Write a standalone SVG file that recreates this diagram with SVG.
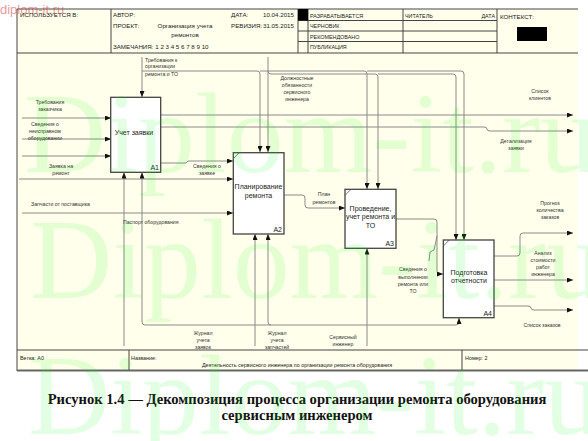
<svg xmlns="http://www.w3.org/2000/svg" width="588" height="441" viewBox="0 0 588 441">
<style>
.hd{font-family:"Liberation Sans",Arial,sans-serif;font-size:6.2px;fill:#222}
.hs{font-family:"Liberation Sans",Arial,sans-serif;font-size:5.4px;fill:#222}
.bt{font-family:"Liberation Sans",Arial,sans-serif;font-size:7px;fill:#222;text-anchor:middle}
.bn{font-family:"Liberation Sans",Arial,sans-serif;font-size:7px;fill:#222;text-anchor:end}
.lb{font-family:"Liberation Sans",Arial,sans-serif;font-size:5.2px;fill:#333;text-anchor:middle}
.ll{font-family:"Liberation Sans",Arial,sans-serif;font-size:5.2px;fill:#333}
.ln{fill:none;stroke:#8a8a8a;stroke-width:1}
.box{fill:#fff;stroke:#444;stroke-width:1.3}
.fr{stroke:#444;stroke-width:1;fill:none}
.cap{font-family:"Liberation Serif","Times New Roman",serif;font-weight:bold;font-size:14.6px;fill:#111;text-anchor:middle}
.wm{font-family:"Liberation Serif","Times New Roman",serif;font-size:114px;fill:#00ff00;fill-opacity:0.11}
</style>
<defs>
<marker id="ah" markerUnits="userSpaceOnUse" markerWidth="6" markerHeight="5" refX="6" refY="2.5" orient="auto">
<path d="M0,0 L6,2.5 L0,5 Z" fill="#111"/>
</marker>
</defs>
<rect x="0" y="0" width="588" height="441" fill="#fff"/>
<rect x="17" y="9" width="561" height="362" fill="#ffffec"/>

<g id="header">
<line class="fr" x1="17" y1="9" x2="578" y2="9"/>
<line class="fr" x1="17" y1="53" x2="578" y2="53"/>
<line class="fr" x1="17" y1="9" x2="17" y2="371"/>
<line class="fr" x1="111" y1="9" x2="111" y2="53"/>
<line class="fr" x1="298" y1="9" x2="298" y2="53"/>
<line class="fr" x1="308" y1="9" x2="308" y2="53"/>
<line class="fr" x1="403" y1="9" x2="403" y2="53"/>
<line class="fr" x1="497" y1="9" x2="497" y2="53"/>
<line class="fr" x1="298" y1="20.5" x2="497" y2="20.5"/>
<line class="fr" x1="298" y1="31" x2="497" y2="31"/>
<line class="fr" x1="298" y1="41.5" x2="497" y2="41.5"/>
<text class="hd" x="20" y="17">ИСПОЛЬЗУЕТСЯ В:</text>
<text class="hd" x="113" y="17">АВТОР:</text>
<text class="hd" x="113" y="28">ПРОЕКТ:</text>
<text class="hd" x="185" y="28" text-anchor="middle" font-size="7.4">Организация учета</text>
<text class="hd" x="185" y="36.5" text-anchor="middle" font-size="7.4">ремонтов</text>
<text class="hd" x="113" y="49">ЗАМЕЧАНИЯ:  1 2 3 4 5 6 7 8 9 10</text>
<text class="hd" x="231" y="17">ДАТА:</text>
<text class="hd" x="263" y="17">10.04.2015</text>
<text class="hd" x="231" y="28">РЕВИЗИЯ:</text>
<text class="hd" x="263" y="28">31.05.2015</text>
<rect x="298" y="9" width="10" height="11.5" fill="#000"/>
<text class="hs" x="310" y="17.5">РАЗРАБАТЫВАЕТСЯ</text>
<text class="hs" x="310" y="28">ЧЕРНОВИК</text>
<text class="hs" x="310" y="38.5">РЕКОМЕНДОВАНО</text>
<text class="hs" x="310" y="49">ПУБЛИКАЦИЯ</text>
<text class="hs" x="405" y="17.5">ЧИТАТЕЛЬ</text>
<text class="hs" x="495" y="17.5" text-anchor="end">ДАТА</text>
<text class="hd" x="500" y="18.5" font-size="6.8">КОНТЕКСТ:</text>
<rect x="517" y="27" width="30" height="14" fill="#000"/>
</g>

<g id="connectors">
<path class="ln" d="M142,57 V97" marker-end="url(#ah)"/>
<path class="ln" d="M142,71 H257 Q260,71 260,74 V152" marker-end="url(#ah)"/>
<path class="ln" d="M260,71 H364 Q367,71 367,74 V189" marker-end="url(#ah)"/>
<path class="ln" d="M367,71 H461 Q464,71 464,74 V240" marker-end="url(#ah)"/>
<path class="ln" d="M268,57 V152" marker-end="url(#ah)"/>
<path class="ln" d="M268,71 Q268,74 271,74 H375 Q378,74 378,77 V189" marker-end="url(#ah)"/>
<path class="ln" d="M378,74 H453 Q456,74 456,77 V240" marker-end="url(#ah)"/>
<path class="ln" d="M22,118 H111" marker-end="url(#ah)"/>
<path class="ln" d="M22,139 H111" marker-end="url(#ah)"/>
<path class="ln" d="M22,156 H111" marker-end="url(#ah)"/>
<path class="ln" d="M161,115 H573" marker-end="url(#ah)"/>
<path class="ln" d="M161,127 H484 Q487,127 487,129 Q487,131 490,131 H573" marker-end="url(#ah)"/>
<path class="ln" d="M161,163 H186 L188,161 H233" marker-end="url(#ah)"/>
<path class="ln" d="M19,179 H233" marker-end="url(#ah)"/>
<path class="ln" d="M22,213 H233" marker-end="url(#ah)"/>
<path class="ln" d="M284,195 H302 Q305,195 305,198 V205 Q305,208 308,208 H345" marker-end="url(#ah)"/>
<path class="ln" d="M396,219 H434 Q437,219 437,222 V271 Q437,274 440,274 H443" marker-end="url(#ah)"/>
<path class="ln" d="M429,261 L430,252 L434,250 L437,236"/>
<path class="ln" d="M494,256 H517 Q520,256 520,253 V236 Q520,233 523,233 H573" marker-end="url(#ah)"/>
<path class="ln" d="M494,280 H573" marker-end="url(#ah)"/>
<path class="ln" d="M494,306 H528 Q531,306 531,308 Q531,310 534,310 H573" marker-end="url(#ah)"/>
<path class="ln" d="M124,346 V172.5" marker-end="url(#ah)"/>
<path class="ln" d="M255,346 V234" marker-end="url(#ah)"/>
<path class="ln" d="M367,346 V248.5" marker-end="url(#ah)"/>
<path class="ln" d="M367,325 H271 Q268,325 268,322 V234" marker-end="url(#ah)"/>
<path class="ln" d="M271,325 H145 Q142,325 142,322 V172.5" marker-end="url(#ah)"/>
<path class="ln" d="M367,325 H456 Q459,325 459,322 V318" marker-end="url(#ah)"/>
</g>

<g id="A1">
<rect class="box" x="110.7" y="97.3" width="50" height="75"/>
<text class="bt" x="134" y="134.5">Учет заявки</text>
<text class="bn" x="159" y="170">A1</text>
</g>
<g id="A2">
<rect class="box" x="233.3" y="152.7" width="50.7" height="81.3"/>
<line x1="233.3" y1="158.7" x2="239.3" y2="152.7" stroke="#555" stroke-width="0.8"/>
<text class="bt" x="258.5" y="189">Планирование</text>
<text class="bt" x="258.5" y="197.5">ремонта</text>
<text class="bn" x="282" y="231.5">A2</text>
</g>
<g id="A3">
<rect class="box" x="345" y="189.3" width="51" height="59"/>
<line x1="345" y1="195.3" x2="351" y2="189.3" stroke="#555" stroke-width="0.8"/>
<text class="bt" x="370.5" y="210.5">Проведение,</text>
<text class="bt" x="370.5" y="219">учет ремонта и</text>
<text class="bt" x="370.5" y="227.5">ТО</text>
<text class="bn" x="394" y="245.5">A3</text>
</g>
<g id="A4">
<rect class="box" x="443.3" y="240" width="50.7" height="77.7"/>
<line x1="443.3" y1="246" x2="449.3" y2="240" stroke="#555" stroke-width="0.8"/>
<text class="bt" x="469" y="274.5">Подготовка</text>
<text class="bt" x="469" y="283">отчетности</text>
<text class="bn" x="492" y="315.5">A4</text>
</g>

<g id="labels">
<text class="ll" x="145" y="61.5">Требования к</text>
<text class="ll" x="145" y="68">организации</text>
<text class="ll" x="145" y="76">ремонта и ТО</text>
<text class="lb" x="297" y="79.5">Должностные</text>
<text class="lb" x="297" y="86.5">обязанности</text>
<text class="lb" x="297" y="93.5">сервисного</text>
<text class="lb" x="297" y="100.5">инженера</text>
<text class="lb" x="540" y="92.5">Список</text>
<text class="lb" x="540" y="100">клиентов</text>
<text class="lb" x="516" y="143">Детализация</text>
<text class="lb" x="516" y="150">заявки</text>
<text class="lb" x="50" y="104">Требования</text>
<text class="lb" x="50" y="110.5">заказчика</text>
<text class="lb" x="45" y="126">Сведения о</text>
<text class="lb" x="45" y="133">неисправном</text>
<text class="lb" x="45" y="140">оборудовании</text>
<text class="lb" x="61" y="167.5">Заявка на</text>
<text class="lb" x="61" y="174.5">ремонт</text>
<text class="lb" x="207" y="167.5">Сведения о</text>
<text class="lb" x="207" y="175">заявке</text>
<text class="ll" x="31" y="206">Запчасти от поставщика</text>
<text class="ll" x="123" y="223.5">Паспорт оборудования</text>
<text class="lb" x="324" y="196">План</text>
<text class="lb" x="324" y="203.5">ремонтов</text>
<text class="lb" x="413" y="271">Сведения о</text>
<text class="lb" x="413" y="278.5">выполнении</text>
<text class="lb" x="413" y="285.5">ремонта или</text>
<text class="lb" x="413" y="292.5">ТО</text>
<text class="lb" x="550" y="204.5">Прогноз</text>
<text class="lb" x="550" y="211.5">количества</text>
<text class="lb" x="550" y="218.5">заказов</text>
<text class="lb" x="543" y="254.5">Анализ</text>
<text class="lb" x="543" y="261.5">стоимости</text>
<text class="lb" x="543" y="268.5">работ</text>
<text class="lb" x="543" y="275.5">инженера</text>
<text class="lb" x="542" y="327">Список заказов</text>
<text class="lb" x="203" y="335">Журнал</text>
<text class="lb" x="203" y="342">учета</text>
<text class="lb" x="203" y="349">заявок</text>
<text class="lb" x="277" y="335">Журнал</text>
<text class="lb" x="277" y="342">учета</text>
<text class="lb" x="277" y="349">запчастей</text>
<text class="lb" x="343" y="339">Сервисный</text>
<text class="lb" x="343" y="345.5">инженер</text>
</g>

<g id="footer">
<line class="fr" x1="17" y1="350" x2="588" y2="350"/>
<line x1="17" y1="370.5" x2="588" y2="370.5" stroke="#666" stroke-width="2"/>
<line class="fr" x1="129" y1="350" x2="129" y2="370"/>
<line class="fr" x1="462" y1="350" x2="462" y2="370"/>
<text class="hs" x="20" y="360">Ветка: А0</text>
<text class="hs" x="131" y="360">Название:</text>
<text class="hs" x="297" y="367" text-anchor="middle" font-size="5.8">Деятельность сервисного инженера по организации ремонта оборудования</text>
<text class="hs" x="465" y="360">Номер: 2</text>
</g>

<text class="cap" x="297" y="404">Рисунок 1.4  — Декомпозиция процесса организации ремонта оборудования</text>
<text class="cap" x="297" y="420">сервисным инженером</text>

<g id="watermark">
<text class="wm" x="24" y="172">Diplom-it.ru</text>
<text class="wm" x="30" y="298">Diplom-it.ru</text>
<text class="wm" x="28" y="434">Diplom-it.ru</text>
<text x="0" y="14" font-family="'Liberation Sans',Arial,sans-serif" font-size="13" fill="#d04040" fill-opacity="0.55">diplom-it.ru</text>
</g>
</svg>
